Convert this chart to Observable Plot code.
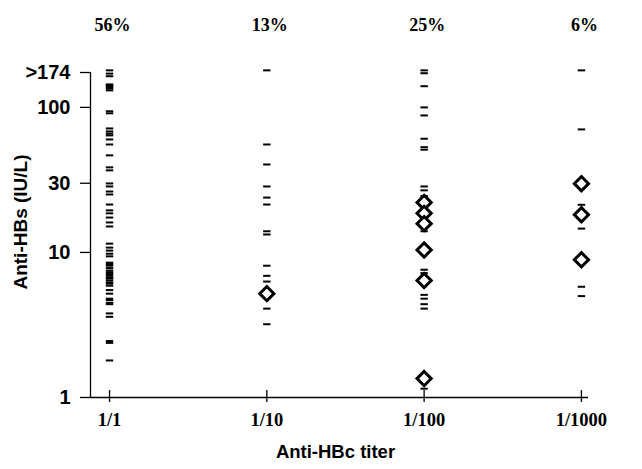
<!DOCTYPE html>
<html>
<head>
<meta charset="utf-8">
<script src="https://cdn.jsdelivr.net/npm/d3@7"></script>
<script src="https://cdn.jsdelivr.net/npm/@observablehq/plot@0.6"></script>
<style>
  html, body { margin: 0; padding: 0; background: #fff; }
  #chart svg { display: block; }
</style>
</head>
<body>
<div id="chart"></div>
<script>
const categories = ["1/1", "1/10", "1/100", "1/1000"];
const percents = ["56%", "13%", "25%", "6%"];
const yTicks = [1, 10, 30, 100, 174];
const yTickLabels = ["1", "10", "30", "100", ">174"];
const xTitle = "Anti-HBc titer";
const yTitle = "Anti-HBs (IU/L)";

// individual values (dashes)
const dashes1 = [180, 171, 164, 144, 142, 140, 137, 135, 131, 94, 91, 71.6, 68.3, 66, 64.1, 60.1, 55.5, 46.7,
  38.6, 36.8, 29.9, 28.5, 26.3, 25.1, 21.4, 19.5, 18.6, 17.4, 16.1, 15.1, 11.5, 10.8, 10.3, 9.8, 9.4,
  8.5, 8.3, 8.1, 7.8, 7.5, 7.3, 7.1, 6.9, 6.7, 6.6, 6.4, 6.2, 6.1, 5.9, 5.5, 5.2, 4.8, 4.7, 4.5, 4.4,
  3.8, 3.6, 2.45, 2.38, 1.8];
const dashes2 = [180, 55.5, 40.4, 28.5, 23.9, 21.4, 14, 13.3, 8.1, 6.9, 6.3, 4.1, 3.2];
const dashes3 = [180, 172, 140, 100, 88, 60.8, 53.2, 51.1, 28.5, 26.8, 24.5, 14, 7.6, 7.2, 5.1, 4.8, 4.4, 4.1, 1.15];
const dashes4 = [180, 70.5, 21.3, 14.6, 5.8, 5.0];

// diamonds
const diamonds2 = [5.2];
const diamonds3 = [22.1, 18.6, 15.8, 10.4, 6.4, 1.35];
const diamonds4 = [29.8, 18.2, 8.9];

const dashRows = [dashes1, dashes2, dashes3, dashes4]
  .flatMap((vals, i) => vals.map(v => ({cat: i, value: v})));
const diamondRows = [[], diamonds2, diamonds3, diamonds4]
  .flatMap((vals, i) => vals.map(v => ({cat: i, value: v})));
const catIdx = categories.map((c, i) => i);

const hline = {
  draw(context, size) {
    const r = Math.sqrt(size / Math.PI);
    context.moveTo(-r, 0);
    context.lineTo(r, 0);
  }
};

const sans = "'Liberation Sans', Arial, sans-serif";
const serif = "'Liberation Serif', 'Times New Roman', serif";

const chart = Plot.plot({
  width: 642,
  height: 469,
  marginTop: 72,
  marginBottom: 72,
  marginLeft: 90,
  marginRight: 54,
  style: {background: "#fff", color: "#000", overflow: "visible"},
  x: {type: "linear", domain: [-0.121, 3.045]},
  y: {type: "log", domain: [1, 174]},
  marks: [
    Plot.ruleX([-0.121], {stroke: "#000", strokeWidth: 1.3}),
    Plot.ruleY([1], {stroke: "#000", strokeWidth: 1.3}),
    Plot.axisY({
      ticks: yTicks,
      tickFormat: d => yTickLabels[yTicks.indexOf(d)],
      tickSize: 10,
      tickPadding: 10,
      fontSize: 20,
      fontWeight: "bold",
      fontFamily: sans,
      strokeWidth: 1.3,
      label: null
    }),
    Plot.axisX({
      ticks: catIdx,
      tickFormat: d => categories[d],
      tickSize: 5,
      tickPadding: 10,
      fontSize: 18.5,
      fontWeight: "bold",
      fontFamily: serif,
      strokeWidth: 1.3,
      label: null
    }),
    Plot.ruleX(catIdx, {x: d => d, y1: 1, y2: 1.117, stroke: "#000", strokeWidth: 1.3}),
    Plot.dot(dashRows, {x: "cat", y: "value", symbol: hline, r: 3.7, stroke: "#000", strokeWidth: 2, fill: "none"}),
    Plot.dot(diamondRows, {x: "cat", y: "value", symbol: "diamond2", r: 6.4, stroke: "#000", strokeWidth: 3, fill: "#fff"}),
    Plot.text(catIdx, {x: d => d, text: d => percents[d], frameAnchor: "top", dy: -54, dx: 3,
      fontSize: 18, fontWeight: "bold", fontFamily: serif, fill: "#000"}),
    Plot.text([yTitle], {text: d => d, frameAnchor: "left", textAnchor: "middle", dx: -70, dy: -13, rotate: -90,
      fontSize: 19, fontWeight: "bold", fontFamily: sans, fill: "#000"}),
    Plot.text([xTitle], {text: d => d, frameAnchor: "bottom", dy: 60, dx: -4,
      fontSize: 18.5, fontWeight: "bold", fontFamily: sans, fill: "#000"})
  ]
});
document.getElementById("chart").appendChild(chart);
</script>
</body>
</html>
